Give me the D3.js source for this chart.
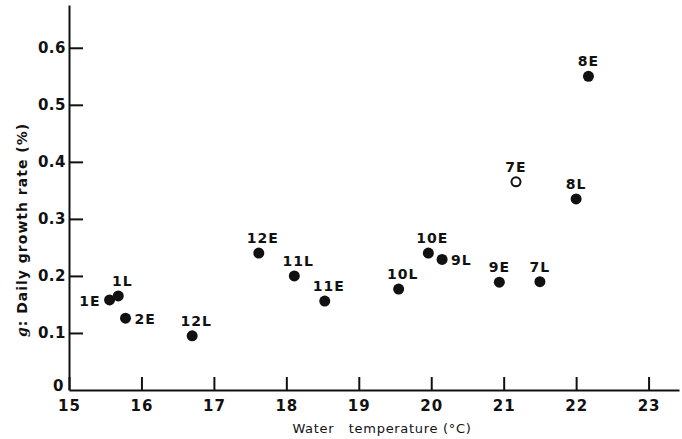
<!DOCTYPE html>
<html>
<head>
<meta charset="utf-8">
<script src="https://cdn.jsdelivr.net/npm/d3@7"></script>
<style>
  body { margin: 0; background: #fff; }
  text { fill: #111; }
</style>
</head>
<body>
<script>
let width = 682;
let height = 439;

// samples: month + E (early) / L (late)
let names = ['1E', '1L', '2E', '12L', '12E', '11L', '11E', '10L', '10E', '9L', '9E', '7L', '7E', '8L', '8E'];
let temps = [15.56, 15.68, 15.78, 16.70, 17.62, 18.11, 18.53, 19.55, 19.96, 20.15, 20.94, 21.50, 21.17, 22.00, 22.17];
let rates = [0.158, 0.165, 0.126, 0.095, 0.240, 0.200, 0.156, 0.177, 0.240, 0.229, 0.189, 0.190, 0.365, 0.335, 0.550];
let open = ['7E'];
// where each label sits around its point
let labelSide = ['w', 'nr', 'e', 'nr', 'nr', 'nr', 'nr', 'nr', 'nr', 'e', 'n', 'n', 'n', 'n', 'n'];

let xTicks = [15, 16, 17, 18, 19, 20, 21, 22, 23];
let yTicks = [0, 0.1, 0.2, 0.3, 0.4, 0.5, 0.6];

let svg = d3.select('body').append('svg')
            .attr('width', width)
            .attr('height', height);

let x = d3.scaleLinear().domain([15, 23.42]).range([69, 679]);
let y = d3.scaleLinear().domain([0, 0.675]).range([390, 5]);

let font = 'DejaVu Sans, sans-serif';

// x axis
let gx = svg.append('g')
            .attr('transform', 'translate(0,390)')
            .call(d3.axisBottom(x).tickValues(xTicks).tickFormat(d3.format('d'))
                    .tickSizeInner(-13).tickSizeOuter(0).tickPadding(7));
gx.select('.domain').attr('stroke', '#111').attr('stroke-width', 2);
gx.selectAll('.tick line').attr('stroke', '#111').attr('stroke-width', 2);
gx.selectAll('.tick text')
  .attr('font-family', font).attr('font-size', 15).attr('font-weight', 'bold')
  .attr('letter-spacing', 1)
  .attr('fill', '#111').attr('dy', '0.9em');

// y axis
let gy = svg.append('g')
            .attr('transform', 'translate(69,0)')
            .call(d3.axisLeft(y).tickValues(yTicks).tickFormat(d => d === 0 ? '0' : d3.format('.1f')(d))
                    .tickSizeInner(-14).tickSizeOuter(0).tickPadding(3));
gy.select('.domain').attr('stroke', '#111').attr('stroke-width', 2);
gy.selectAll('.tick line').attr('stroke', '#111').attr('stroke-width', 2);
gy.selectAll('.tick text')
  .attr('font-family', font).attr('font-size', 15).attr('font-weight', 'bold')
  .attr('letter-spacing', 0.5)
  .attr('fill', '#111');
gy.selectAll('.tick').filter(d => d === 0).select('text')
  .attr('x', -5).attr('dy', '0.05em');
gy.selectAll('.tick').filter(d => d === 0).select('line').remove();

// axis titles
svg.append('text')
   .attr('x', 382).attr('y', 433)
   .attr('text-anchor', 'middle')
   .attr('font-family', font).attr('font-size', 13)
   .attr('letter-spacing', 0.7)
   .style('white-space', 'pre')
   .text('Water   temperature (°C)');

let yt = svg.append('text')
            .attr('transform', 'translate(27,230) rotate(-90)')
            .attr('text-anchor', 'middle')
            .attr('font-family', font).attr('font-size', 14).attr('font-weight', 'bold')
            .attr('letter-spacing', 1);
yt.append('tspan').attr('font-family', 'DejaVu Serif, serif').attr('font-style', 'italic')
  .text('g');
yt.append('tspan').text(': Daily growth rate (%)');

// points
let points = names.map((n, i) => ({name: n, t: temps[i], g: rates[i], side: labelSide[i]}));

svg.selectAll('circle').data(points)
   .enter()
   .append('circle')
   .attr('cx', d => x(d.t))
   .attr('cy', d => y(d.g))
   .attr('r', d => open.includes(d.name) ? 4.5 : 5.5)
   .attr('fill', d => open.includes(d.name) ? 'none' : '#111')
   .attr('stroke', '#111')
   .attr('stroke-width', d => open.includes(d.name) ? 2 : 0);

let off = {
  n:  {dx: 0,   dy: -10, anchor: 'middle'},
  nr: {dx: 4,   dy: -10, anchor: 'middle'},
  e:  {dx: 9,   dy: 6,   anchor: 'start'},
  w:  {dx: -9,  dy: 6,   anchor: 'end'}
};

svg.selectAll('text.lab').data(points)
   .enter()
   .append('text')
   .attr('class', 'lab')
   .attr('x', d => x(d.t) + off[d.side].dx)
   .attr('y', d => y(d.g) + off[d.side].dy)
   .attr('text-anchor', d => off[d.side].anchor)
   .attr('font-family', font).attr('font-size', 14).attr('font-weight', 'bold')
   .attr('letter-spacing', 1)
   .text(d => d.name);
</script>
</body>
</html>
